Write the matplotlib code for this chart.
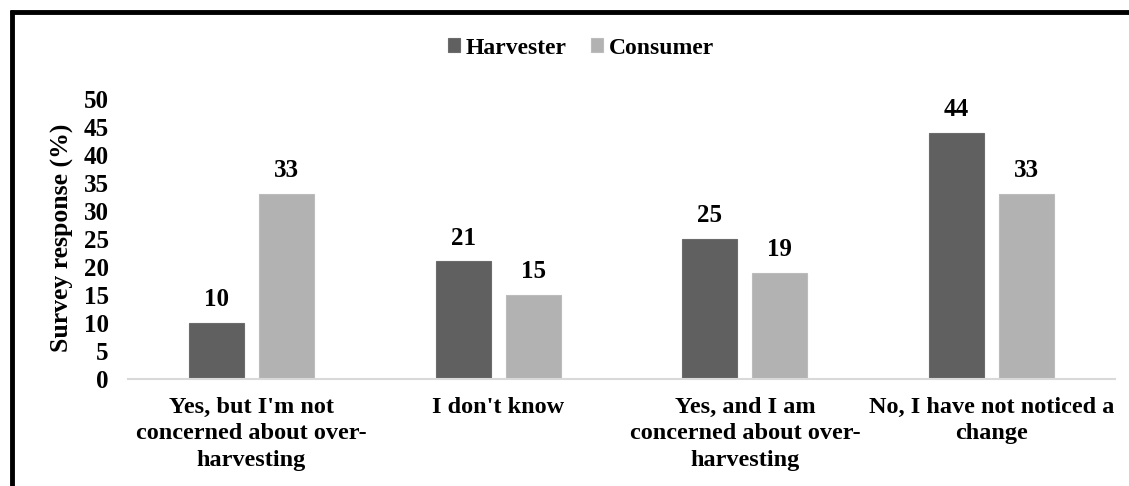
import numpy as np
import matplotlib
matplotlib.use("Agg")
import matplotlib.pyplot as plt
from matplotlib.lines import Line2D

# survey data (% of respondents)
categories = ["Yes, but I'm not\nconcerned about over-\nharvesting",
              "I don't know",
              "Yes, and I am\nconcerned about over-\nharvesting",
              "No, I have not noticed a\nchange"]
harvester = [10, 21, 25, 44]
consumer = [33, 15, 19, 33]
series_names = ["Harvester", "Consumer"]
y_ticks = list(range(0, 55, 5))

plt.rcParams['font.family'] = ['Liberation Serif', 'DejaVu Serif']
plt.rcParams['font.weight'] = 'bold'

fig = plt.figure(figsize=(11.29, 4.86), dpi=100)
ax = fig.add_axes([128 / 1129, 107 / 486, (1115 - 128) / 1129, 280 / 486])

x = np.arange(len(categories))
w = 0.223
off = 0.142
b1 = ax.bar(x - off, harvester, w, color='#606060', edgecolor='#6c6c6c',
            linewidth=0.8, label=series_names[0])
b2 = ax.bar(x + off, consumer, w, color='#b2b2b2', edgecolor='#bcbcbc',
            linewidth=0.8, label=series_names[1])

# value labels above each bar
for bars, vals in ((b1, harvester), (b2, consumer)):
    for rect, v in zip(bars, vals):
        ax.annotate(str(v), (rect.get_x() + rect.get_width() / 2, v),
                    xytext=(0, 8.5), textcoords='offset points',
                    ha='center', va='bottom', fontsize=18, fontweight='bold')

ax.set_xlim(-0.5, len(categories) - 0.5)
ax.set_ylim(0, 50)
ax.set_yticks(y_ticks)
ax.set_xticks(x)
ax.set_xticklabels(categories, fontsize=17.5, fontweight='bold', linespacing=1.34)
ax.tick_params(axis='y', length=0, pad=14, labelsize=18)
ax.tick_params(axis='x', length=0, pad=13)
for s in ('top', 'right', 'left'):
    ax.spines[s].set_visible(False)
ax.spines['bottom'].set_color('#d9d9d9')
ax.spines['bottom'].set_linewidth(1.5)

fig.text(62 / 1129, 1 - 238 / 486, "Survey response (%)", rotation=90,
         ha='center', va='center', fontsize=18.5, fontweight='bold')

fig.legend(handles=[b1, b2], loc='center', bbox_to_anchor=(581 / 1129, 1 - 48 / 486),
           ncol=2, frameon=False, handlelength=0.5, handleheight=0.5,
           handletextpad=0.25, columnspacing=1.05, prop={'weight': 'bold', 'size': 17})

# thick frame on top and left edges
fig.add_artist(Line2D([10 / 1129, 1], [1 - 12 / 486] * 2, color='black', lw=3.5,
                      transform=fig.transFigure, solid_capstyle='butt'))
fig.add_artist(Line2D([12 / 1129] * 2, [0, 1 - 10 / 486], color='black', lw=3.5,
                      transform=fig.transFigure, solid_capstyle='butt'))

fig.savefig('out.png', dpi=100)
